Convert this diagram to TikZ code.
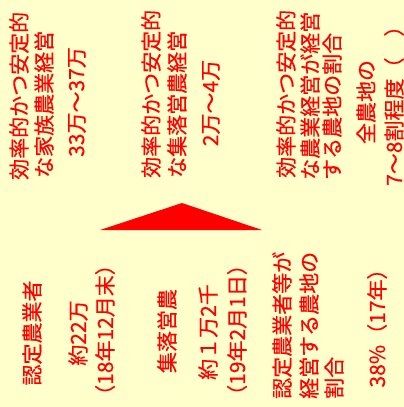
\documentclass[tikz,border=0pt]{standalone}
\usepackage{fontspec}
\newfontfamily\jp[FakeBold=0.4]{Noto Sans CJK JP}
\definecolor{bgyellow}{RGB}{255,255,204}
\tikzset{
  lbl/.style={rotate=90, inner sep=0pt, text=red, font=\jp\fontsize{21}{24}\selectfont},
  startlbl/.style={lbl, anchor=west},
}
\begin{document}
\begin{tikzpicture}[x=1pt,y=-1pt]
\fill[bgyellow] (0,0) rectangle (404,407);
\useasboundingbox (0,0) rectangle (404,407);
% triangle
\fill[red] (100,230) -- (182,203) -- (262,230) -- cycle;
% top-left
\node[startlbl] (tl1) at (19,180) {効率的かつ安定的};
\node[startlbl] (tl2) at (44,178) {な家族農業経営};
\node[lbl] (tl3) at (77,102) {33万～37万};
% top-middle
\node[startlbl] (tm1) at (151,178) {効率的かつ安定的};
\node[startlbl] (tm2) at (177,178) {な集落営農経営};
\node[lbl] (tm3) at (211,103) {2万～4万};
% top-right
\node[startlbl] (tr1) at (286,178) {効率的かつ安定的};
\node[startlbl] (tr2) at (310,180) {な農業経営が経営};
\node[startlbl] (tr3) at (332,180) {する農地の割合};
\node[lbl] (tr4) at (366,102) {全農地の};
\node[startlbl] (tr5) at (394,186) {7～8割程度（　）};
% bottom-left
\node[lbl] (bl1) at (32,333) {認定農業者};
\node[lbl] (bl2) at (78,333) {約22万};
\node[lbl] (bl3) at (105,330) {（18年12月末）};
% bottom-middle
\node[lbl] (bm1) at (167,331) {集落営農};
\node[lbl] (bm2) at (208,332) {約１万2千};
\node[lbl] (bm3) at (237,330) {（19年2月1日）};
% bottom-right
\node[startlbl] (br1) at (282,399) {認定農業者等が};
\node[startlbl] (br2) at (309,399) {経営する農地の};
\node[startlbl] (br3) at (334,399) {割合};
\node[lbl] (br4) at (377,323) {38\%（17年）};
\end{tikzpicture}
\end{document}
